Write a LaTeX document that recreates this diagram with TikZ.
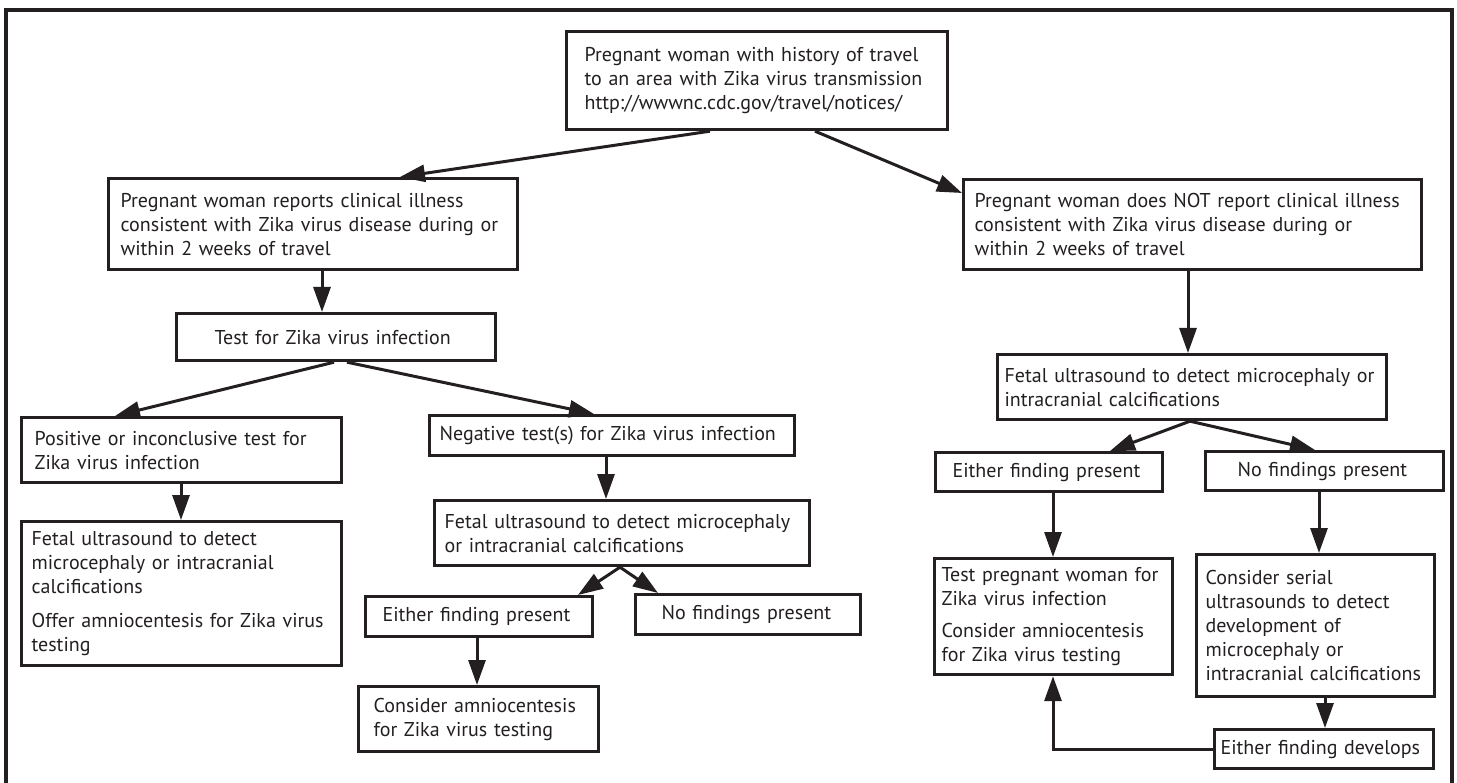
\documentclass[tikz,border=0pt]{standalone}
\usepackage{fontspec}
\setmainfont{PT Sans}
\usepackage{tikz}
\usetikzlibrary{arrows.meta}
\definecolor{InkBlack}{RGB}{35,31,32}

\begin{document}
\begin{tikzpicture}[x=1pt,y=-1pt,>={Triangle[length=25pt,width=17pt]},
  box/.style={draw=InkBlack,line width=3.2pt,anchor=north west,align=left,
    inner ysep=0pt,text=InkBlack,font=\fontsize{20}{24}\selectfont},
  flow/.style={->,draw=InkBlack,line width=3pt}]
  \useasboundingbox (0,0) rectangle (1457,783);

  % Frame
  \draw[InkBlack,line width=3.2pt] (6,783) -- (6,10) -- (1452,10) -- (1452,783);

  % Travel
  \node[box,text width=345pt,inner xsep=18pt,minimum height=98pt] (travel) at (565,30)
    {Pregnant woman with history of travel\\to an area with Zika virus transmission\\http://wwwnc.cdc.gov/travel/notices/};

  % Illness reported
  \node[box,text width=385pt,inner xsep=12pt,minimum height=91pt] (ill) at (107,177)
    {Pregnant woman reports clinical illness\\consistent with Zika virus disease during~or\\within 2 weeks of travel};
  \node[box,text width=243pt,inner xsep=38pt,minimum height=47pt] (test) at (175,312)
    {Test for Zika virus infection};
  \node[box,text width=294pt,inner xsep=13pt,minimum height=65pt] (pos) at (20,416)
    {Positive or inconclusive test for\\Zika virus infection};
  \node[box,text width=300pt,inner xsep=10pt,minimum height=144pt] (usPos) at (20,520)
    {Fetal ultrasound to detect\\microcephaly or intracranial\\calcifications\\[10pt]Offer amniocentesis for Zika virus\\testing};
  \node[box,text width=345pt,inner xsep=10pt,minimum height=40pt] (neg) at (428,414)
    {Negative test(s) for Zika virus infection};
  \node[box,text width=355pt,inner xsep=10pt,minimum height=65pt] (usNeg) at (433,499)
    {Fetal ultrasound to detect microcephaly\\or intracranial calcifications};
  \node[box,text width=193pt,inner xsep=17pt,minimum height=40pt] (eitherNeg) at (364,595)
    {Either finding present};
  \node[box,text width=173pt,inner xsep=26pt,minimum height=40pt] (noneNeg) at (634,593)
    {No findings present};
  \node[box,text width=210pt,inner xsep=15pt,minimum height=65pt] (amnio) at (357,685)
    {Consider amniocentesis\\for Zika virus testing};

  % No illness reported
  \node[box,text width=436pt,inner xsep=11pt,minimum height=90pt] (noIll) at (962,178)
    {Pregnant woman does NOT report clinical~illness\\consistent with Zika virus disease during~or\\within 2 weeks of travel};
  \node[box,text width=375pt,inner xsep=7pt,minimum height=65pt] (usNoIll) at (996,353)
    {Fetal ultrasound to detect microcephaly~or\\intracranial calcifications};
  \node[box,text width=193pt,inner xsep=17pt,minimum height=39pt] (either) at (934,451)
    {Either finding present};
  \node[box,text width=174pt,inner xsep=32pt,minimum height=39pt] (none) at (1204,450)
    {No findings present};
  \node[box,text width=224pt,inner xsep=7pt,minimum height=116pt] (testMom) at (933,557)
    {Test pregnant woman for\\Zika virus infection\\[8pt]Consider amniocentesis\\for Zika virus testing};
  \node[box,text width=220pt,inner xsep=9pt,minimum height=142pt] (serial) at (1195,553)
    {Consider serial\\ultrasounds to detect\\development of\\microcephaly or\\intracranial calcifications};
  \node[box,text width=207pt,inner xsep=6pt,minimum height=39pt] (develops) at (1213,728)
    {Either finding develops};

  % Connectors, left
  \draw[flow] (travel.south -| 710,0) -- (ill.north -| 400,0);
  \draw[flow] (travel.south -| 815,0) -- ([yshift=-15pt]noIll.north west);
  \draw[flow] (ill.south -| 322,0) -- (test.north -| 322,0);
  \draw[flow] (test.south -| 334,0) -- (pos.north -| 115,0);
  \draw[flow] (test.south -| 347,0) -- (neg.north -| 594,0);
  \draw[flow] (pos.south -| 181,0) -- (usPos.north -| 181,0);
  \draw[flow] (neg.south -| 606,0) -- (usNeg.north -| 606,0);
  \draw[flow] (usNeg.south -| 620,0) -- (eitherNeg.north -| 578,0);
  \draw[flow] (usNeg.south -| 620,0) -- (noneNeg.north -| 658,0);
  \draw[flow] (eitherNeg.south -| 477,0) -- (amnio.north -| 477,0);

  % Connectors, right
  \draw[flow] (noIll.south -| 1188,0) -- (usNoIll.north -| 1188,0);
  \draw[flow] (usNoIll.south -| 1190,0) -- (either.north -| 1110,0);
  \draw[flow] (usNoIll.south -| 1190,0) -- (none.north -| 1315,0);
  \draw[flow] (either.south -| 1053,0) -- (testMom.north -| 1053,0);
  \draw[flow] (none.south -| 1319,0) -- (serial.north -| 1319,0);
  \draw[flow] (serial.south -| 1325,0) -- (develops.north -| 1325,0);
  \draw[flow] (develops.west) -| (testMom.south -| 1053,0);
\end{tikzpicture}
\end{document}
